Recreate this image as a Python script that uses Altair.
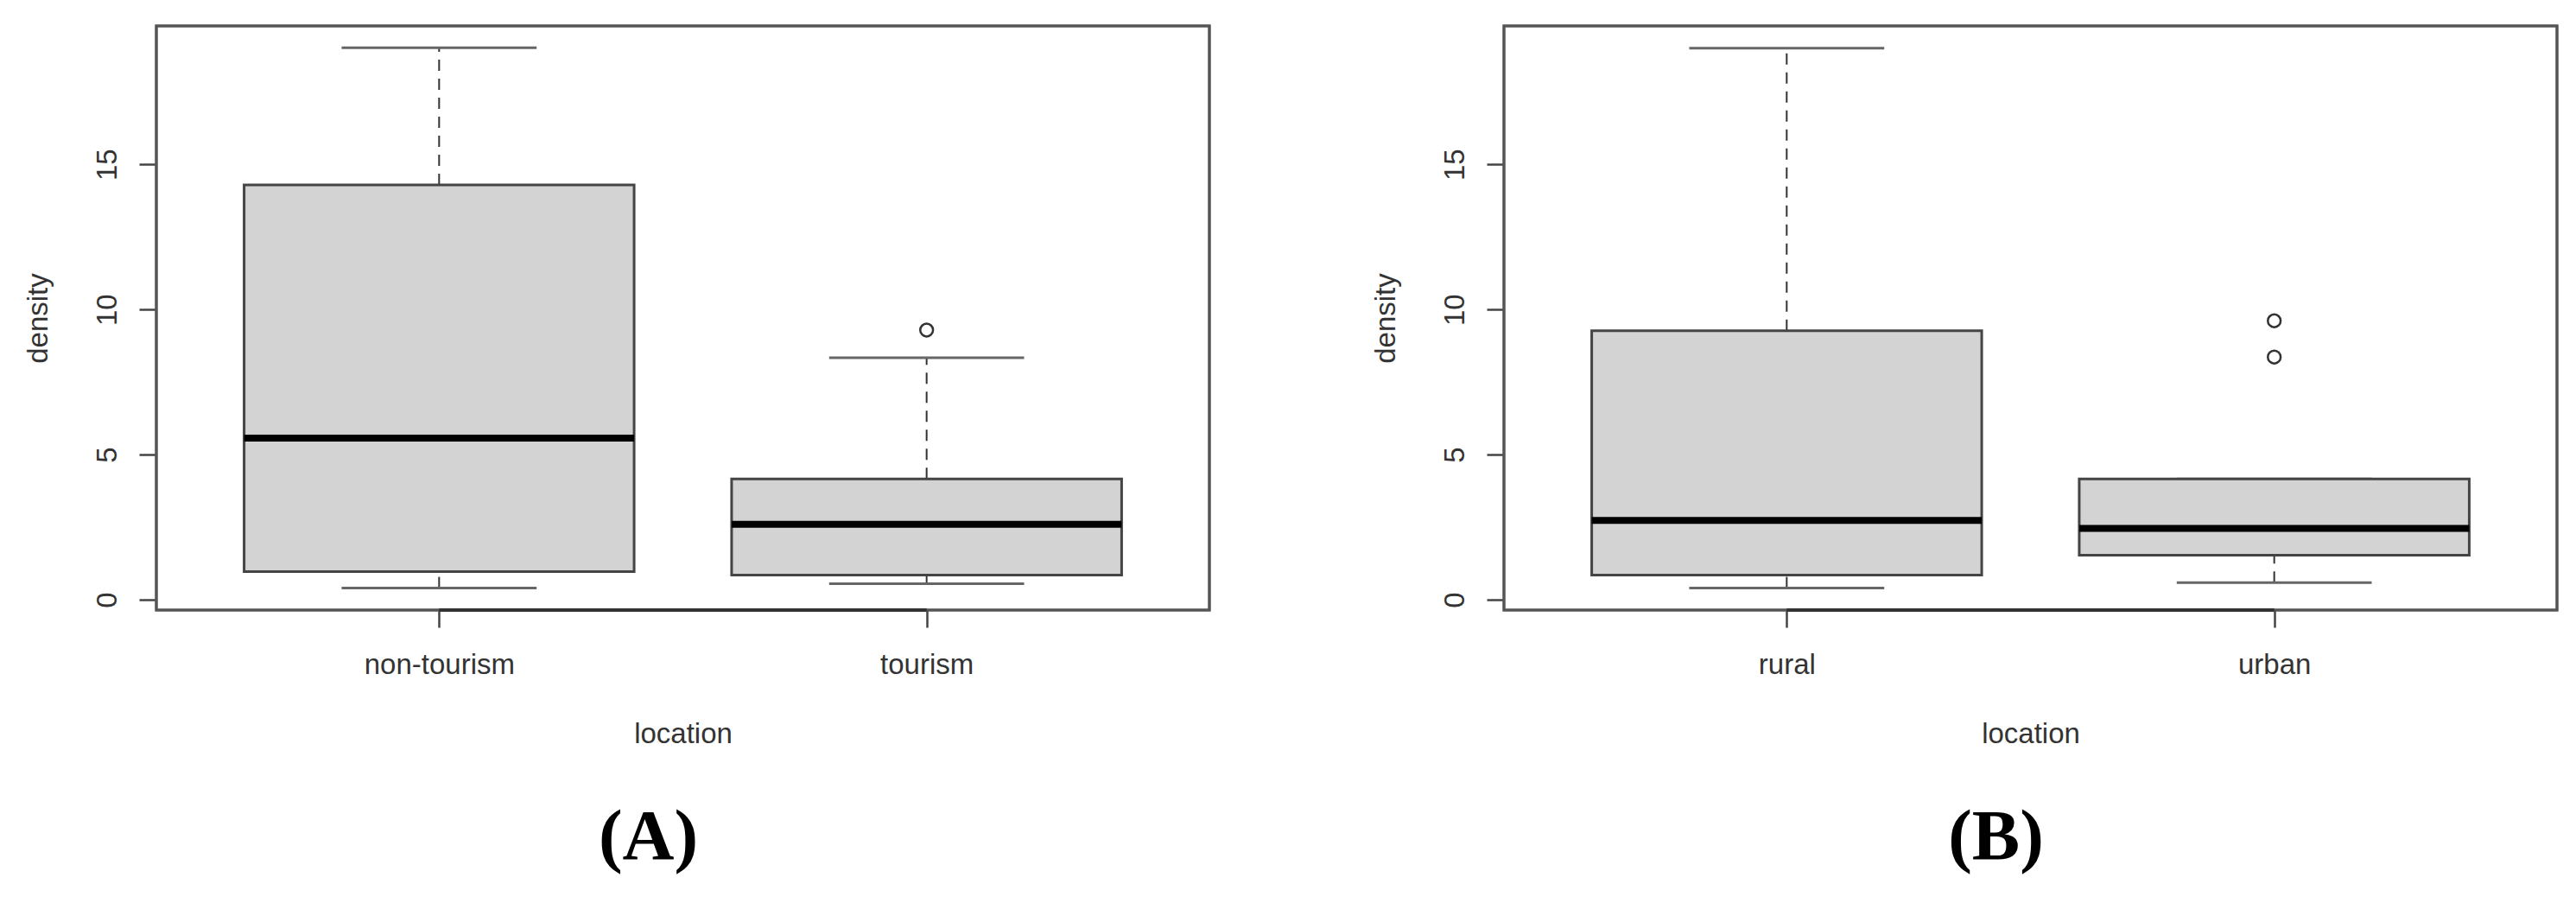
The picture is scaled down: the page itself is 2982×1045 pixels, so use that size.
import altair as alt
import pandas as pd

# ---- Panel A data ----
groups_a = ["non-tourism", "tourism"]
lower_a = [0.40, 0.55]
q1_a = [0.97, 0.85]
median_a = [5.57, 2.60]
q3_a = [14.29, 4.16]
upper_a = [19.02, 8.34]
outlier_group_a = ["tourism"]
outlier_value_a = [9.29]

# ---- Panel B data ----
groups_b = ["rural", "urban"]
lower_b = [0.40, 0.59]
q1_b = [0.85, 1.53]
median_b = [2.73, 2.46]
q3_b = [9.27, 4.16]
upper_b = [19.00, 4.16]
outlier_group_b = ["urban", "urban"]
outlier_value_b = [9.61, 8.36]

y_ticks = [0, 5, 10, 15]

W = 1219
H = 676
FONT = "Liberation Sans"
FS = 33


def panel(groups, lower, q1, med, q3, upper, out_g, out_v, label):
    df = pd.DataFrame({
        "group": groups,
        "pos": list(range(1, len(groups) + 1)),
        "lower": lower, "q1": q1, "median": med, "q3": q3, "upper": upper,
    })
    od = pd.DataFrame({"group": out_g, "value": out_v})
    od["pos"] = od["group"].map({g: i + 1 for i, g in enumerate(groups)})

    xscale = alt.Scale(domain=[0.42, 2.58], nice=False, zero=False)
    yscale = alt.Scale(domain=[-0.357, 19.77], nice=False, zero=False)
    label_expr = "datum.value == 1 ? '%s' : (datum.value == 2 ? '%s' : '')" % (groups[0], groups[1])

    xaxis = alt.Axis(values=[1, 2], labelExpr=label_expr, title="location",
                     tickSize=20, tickWidth=2.5, tickColor="#444", domain=False, grid=False,
                     labelFont=FONT, labelFontSize=FS, labelColor="#333", labelPadding=53,
                     labelBaseline="alphabetic", labelAngle=0, labelAlign="center",
                     titleFont=FONT, titleFontSize=FS, titleFontWeight="normal", titleColor="#333",
                     titleX=W / 2, titleY=153, titleBaseline="alphabetic", titleAlign="center")
    yaxis = alt.Axis(values=y_ticks, title="density", tickSize=20, tickWidth=2.5, tickColor="#444",
                     domain=False, grid=False, labelFont=FONT, labelFontSize=FS, labelColor="#333",
                     labelAngle=270, labelAlign="center", labelBaseline="alphabetic", labelPadding=27,
                     titleFont=FONT, titleFontSize=FS, titleFontWeight="normal", titleColor="#333",
                     titleAngle=270, titleX=-127, titleY=H / 2, titleAlign="center",
                     titleBaseline="alphabetic")

    base = alt.Chart(df).transform_calculate(
        left="datum.pos - 0.4", right="datum.pos + 0.4",
        capl="datum.pos - 0.2", capr="datum.pos + 0.2")

    # plot frame (box around the plotting region)
    frame = alt.Chart(df).mark_rect(fill=None, stroke="#555", strokeWidth=3).encode(
        x=alt.value(0), x2=alt.value(W), y=alt.value(0), y2=alt.value(H))

    whisk_hi = base.mark_rule(color="#333", strokeWidth=2, strokeDash=[13, 9]).encode(
        x=alt.X("pos:Q", scale=xscale, axis=xaxis),
        y=alt.Y("q3:Q", scale=yscale, axis=yaxis), y2="upper:Q")
    whisk_lo = base.mark_rule(color="#333", strokeWidth=2, strokeDash=[13, 9]).encode(
        x=alt.X("pos:Q", scale=xscale), y=alt.Y("lower:Q", scale=yscale), y2="q1:Q")
    cap_hi = base.mark_rule(color="#666", strokeWidth=3).encode(
        x=alt.X("capl:Q", scale=xscale), x2="capr:Q", y=alt.Y("upper:Q", scale=yscale))
    cap_lo = base.mark_rule(color="#666", strokeWidth=3).encode(
        x=alt.X("capl:Q", scale=xscale), x2="capr:Q", y=alt.Y("lower:Q", scale=yscale))
    box = base.mark_rect(fill="#D3D3D3", stroke="#444", strokeWidth=3).encode(
        x=alt.X("left:Q", scale=xscale), x2="right:Q",
        y=alt.Y("q1:Q", scale=yscale), y2="q3:Q")
    med_l = base.mark_rule(color="black", strokeWidth=8).encode(
        x=alt.X("left:Q", scale=xscale), x2="right:Q", y=alt.Y("median:Q", scale=yscale))
    axis_line = alt.Chart(df).mark_rule(color="#333", strokeWidth=4).encode(
        x=alt.X("min(pos):Q", scale=xscale), x2="max(pos):Q", y=alt.value(H))
    pts = alt.Chart(od).mark_point(shape="circle", filled=False, size=220, color="#333",
                                   strokeWidth=2.5, opacity=1).encode(
        x=alt.X("pos:Q", scale=xscale), y=alt.Y("value:Q", scale=yscale))

    return alt.layer(whisk_hi, whisk_lo, cap_hi, cap_lo, box, med_l, frame, axis_line, pts).properties(
        width=W, height=H,
        title=alt.TitleParams(label, orient="bottom", anchor="middle", frame="group",
                              font="Liberation Serif", fontSize=83, fontWeight="bold",
                              color="black", baseline="top", offset=62, dx=-40))


chart_a = panel(groups_a, lower_a, q1_a, median_a, q3_a, upper_a,
                outlier_group_a, outlier_value_a, "(A)")
chart_b = panel(groups_b, lower_b, q1_b, median_b, q3_b, upper_b,
                outlier_group_b, outlier_value_b, "(B)")

chart = alt.hconcat(chart_a, chart_b, spacing=185).properties(
    padding={"left": 19, "top": 20, "right": 5, "bottom": 5}
).configure_view(stroke=None).configure(background="white")

chart.save("out.html", embed_options={"renderer": "svg", "actions": False})
